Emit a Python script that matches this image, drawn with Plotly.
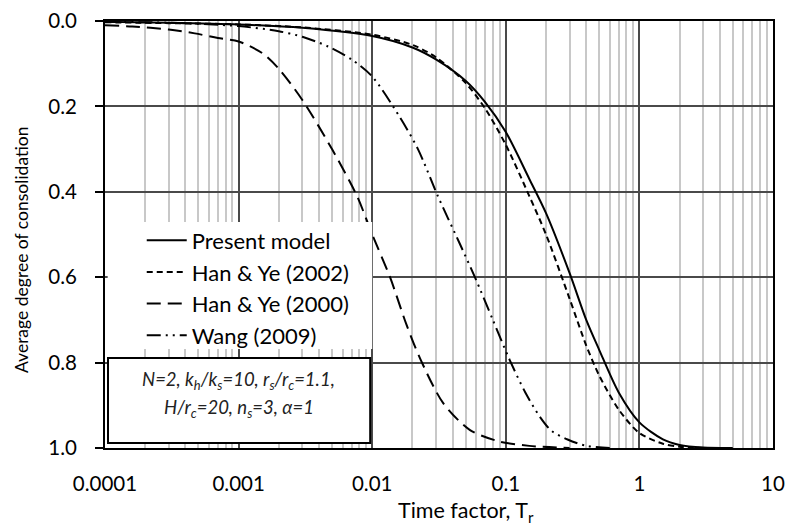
import plotly.graph_objects as go

# ---- data ----
T_present = [1e-4, 3e-4, 1e-3, 3e-3, 0.01, 0.02, 0.03, 0.05, 0.07, 0.1, 0.15, 0.2, 0.3, 0.4, 0.5, 0.7, 1.0, 1.5, 2.0, 3.0, 5.0]
U_present = [0.002, 0.004, 0.008, 0.016, 0.035, 0.062, 0.09, 0.14, 0.19, 0.26, 0.37, 0.45, 0.59, 0.70, 0.77, 0.87, 0.94, 0.98, 0.993, 0.999, 1.0]

T_hy2002 = [1e-4, 3e-4, 1e-3, 3e-3, 0.01, 0.02, 0.03, 0.05, 0.07, 0.1, 0.15, 0.2, 0.3, 0.4, 0.5, 0.7, 1.0, 1.5, 2.0, 3.0]
U_hy2002 = [0.003, 0.005, 0.008, 0.015, 0.032, 0.056, 0.085, 0.145, 0.205, 0.29, 0.41, 0.50, 0.65, 0.76, 0.83, 0.91, 0.965, 0.99, 0.997, 1.0]

T_hy2000 = [1e-4, 1.6e-4, 3e-4, 4.7e-4, 7e-4, 1e-3, 1.5e-3, 2e-3, 3e-3, 5e-3, 7.7e-3, 0.01, 0.0136, 0.018, 0.0228, 0.034, 0.054, 0.09, 0.15, 0.3]
U_hy2000 = [0.01, 0.013, 0.02, 0.029, 0.04, 0.048, 0.075, 0.112, 0.185, 0.30, 0.41, 0.50, 0.60, 0.71, 0.79, 0.895, 0.958, 0.985, 0.995, 1.0]

T_wang = [1e-4, 3e-4, 1e-3, 2e-3, 3e-3, 4.7e-3, 7e-3, 0.01, 0.016, 0.022, 0.031, 0.045, 0.0587, 0.08, 0.107, 0.14, 0.18, 0.22, 0.29, 0.4, 0.6]
U_wang = [0.002, 0.004, 0.012, 0.024, 0.037, 0.06, 0.09, 0.13, 0.224, 0.30, 0.41, 0.52, 0.60, 0.70, 0.794, 0.87, 0.927, 0.96, 0.98, 0.995, 1.0]

x_tickvals = [1e-4, 1e-3, 1e-2, 1e-1, 1, 10]
x_ticktext = ["0.0001", "0.001", "0.01", "0.1", "1", "10"]
y_tickvals = [0.0, 0.2, 0.4, 0.6, 0.8, 1.0]
y_ticktext = ["0.0", "0.2", "0.4", "0.6", "0.8", "1.0"]

FONT = "Lato"

series = [
    ("Present model", T_present, U_present, "solid"),
    ("Han & Ye (2002)", T_hy2002, U_hy2002, "6px,4px"),
    ("Han & Ye (2000)", T_hy2000, U_hy2000, "14px,7px"),
    ("Wang (2009)", T_wang, U_wang, "14px,5px,2px,5px,2px,5px"),
]

fig = go.Figure()
for i, (name, xs, ys, dash) in enumerate(series):
    fig.add_trace(go.Scatter(
        x=xs, y=ys, mode="lines", name=name, legendgroup=f"g{i}",
        line=dict(color="black", width=2, dash=dash, shape="spline", smoothing=0.8),
    ))

shapes = [
    # white area behind the legend (hides grid like the reference)
    dict(type="rect", xref="paper", yref="paper", x0=0.004, x1=0.40, y0=0.232, y1=0.529,
         fillcolor="white", line=dict(width=0), layer="above"),
    # parameter box
    dict(type="rect", xref="paper", yref="paper", x0=0.0045, x1=0.397, y0=0.012, y1=0.211,
         fillcolor="white", line=dict(color="black", width=2), layer="above"),
]

annotations = [
    dict(xref="paper", yref="paper", x=0.2, y=0.158, xanchor="center", yanchor="middle",
         showarrow=False,
         text="<i>N=2, k<sub>h</sub>/k<sub>s</sub>=10, r<sub>s</sub>/r<sub>c</sub>=1.1,</i>",
         font=dict(family=FONT, size=18.5, color="#222")),
    dict(xref="paper", yref="paper", x=0.2, y=0.092, xanchor="center", yanchor="middle",
         showarrow=False,
         text="<i>H/r<sub>c</sub>=20, n<sub>s</sub>=3, α=1</i>",
         font=dict(family=FONT, size=18.5, color="#222")),
    dict(xref="paper", yref="paper", x=0.54, y=-0.148, xanchor="center", yanchor="middle",
         showarrow=False, text="Time factor, T<sub>r</sub>",
         font=dict(family=FONT, size=21.5, color="black")),
    dict(xref="paper", yref="paper", x=-0.124, y=0.464, xanchor="center", yanchor="middle",
         showarrow=False, textangle=-90, text="Average degree of consolidation",
         font=dict(family=FONT, size=17.5, color="black")),
]

fig.update_layout(
    width=787, height=527,
    margin=dict(l=105, r=14, t=21, b=79),
    paper_bgcolor="white", plot_bgcolor="white",
    font=dict(family=FONT, size=20, color="black"),
    showlegend=True,
    legend=dict(
        x=0.055, y=0.535, xanchor="left", yanchor="top",
        bgcolor="rgba(0,0,0,0)", borderwidth=0,
        font=dict(family=FONT, size=22, color="black"),
        tracegroupgap=0, itemwidth=40,
    ),
    shapes=shapes,
    annotations=annotations,
)

fig.update_xaxes(
    type="log", range=[-4, 1], automargin=False,
    tickvals=x_tickvals, ticktext=x_ticktext, ticks="",
    showgrid=True, gridcolor="#4a4a4a", gridwidth=1.5,
    minor=dict(dtick="D1", showgrid=True, gridcolor="#c8c8c8", gridwidth=1.5, ticks=""),
    showline=True, linecolor="black", linewidth=2, mirror=True,
    tickfont=dict(family=FONT, size=20.5), ticklabelstandoff=16,
    zeroline=False,
)
fig.update_yaxes(
    range=[1, 0], automargin=False,
    tickvals=y_tickvals, ticktext=y_ticktext,
    ticks="outside", ticklen=8, tickcolor="black", tickwidth=1.5,
    showgrid=True, gridcolor="#4a4a4a", gridwidth=1.5,
    showline=True, linecolor="black", linewidth=2, mirror=True,
    tickfont=dict(family=FONT, size=20.5), ticklabelstandoff=14,
    zeroline=False,
)

fig.write_html("out.html")
